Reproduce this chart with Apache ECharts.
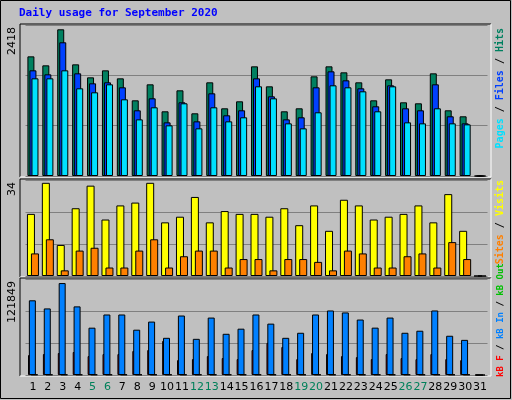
<!DOCTYPE html>
<html><head><meta charset="utf-8">
<script src="https://cdn.jsdelivr.net/npm/echarts@6/dist/echarts.min.js"></script>
<style>html,body{margin:0;padding:0;background:#c0c0c0}#c{width:512px;height:400px}</style>
</head><body><div id="c"></div>
<script>
const days = ['1','2','3','4','5','6','7','8','9','10','11','12','13','14','15','16','17','18','19','20','21','22','23','24','25','26','27','28','29','30','31'];
const weekend = ['5','6','12','13','19','20','26','27'];
const hits  = [1916,1772,2349,1788,1580,1692,1564,1212,1468,1036,1372,1004,1500,1084,1196,1756,1436,1036,1084,1596,1756,1660,1500,1212,1548,1180,1164,1644,1052,956,0];
const files = [1692,1628,2141,1644,1484,1500,1420,1052,1244,859,1180,875,1324,972,1052,1564,1276,907,940,1420,1676,1532,1404,1116,1452,1084,1052,1468,956,843,0];
const pages = [1564,1564,1692,1404,1340,1468,1228,907,1100,811,1164,763,1100,875,940,1436,1244,843,763,1020,1452,1420,1356,1036,1436,859,843,1084,843,827,0];
const visits = [22,33,11,24,32,20,25,26,33,19,21,28,19,23,22,22,21,24,18,25,16,27,25,20,21,22,25,19,29,16,0];
const sites  = [8,13,2,9,10,3,3,9,13,3,7,9,9,3,6,6,2,6,6,5,2,9,8,3,3,7,8,3,12,6,0];
const kbIn  = [94800,84500,116700,87100,60060,76800,76800,57500,67800,47200,75500,45900,72900,52300,58800,76800,65200,47200,53600,76800,81900,79400,70400,60100,72900,53600,56200,81900,49800,44600,0];
const kbF   = [25300,26600,27900,29200,24000,26600,26600,30500,31700,43300,18900,20200,24000,21500,20200,31700,40800,35600,20200,27900,26600,24000,22700,20200,26600,21500,20200,26600,20200,18900,0];
const kbOut = [600,600,600,600,600,600,600,600,600,600,600,600,600,600,600,600,600,600,600,600,600,600,600,600,600,600,600,600,600,600,0];
const maxHits = 2418, maxVisits = 34, maxKB = 121849;

const chart = echarts.init(document.getElementById('c'));
const panels = [{top:25,h:151},{top:180,h:96},{top:279,h:96}];
const maxes = [maxHits, maxVisits, maxKB];
const grids = panels.map(p=>({left:25.5,width:462,top:p.top,height:p.h}));
const xAxes = panels.map((p,i)=>({type:'category',gridIndex:i,data:days,
  axisLine:{show:false},axisTick:{show:false},
  axisLabel:{show:i===2,interval:0,margin:7,fontFamily:'DejaVu Sans',fontSize:11,
    color:v=>weekend.includes(v)?'#00805a':'#000'}}));
const yAxes = panels.map((p,i)=>({type:'value',gridIndex:i,min:0,max:maxes[i],interval:maxes[i]/3,
  axisLabel:{show:false},axisLine:{show:false},axisTick:{show:false},
  splitLine:{show:true,lineStyle:{color:'#808080',width:1}}}));
const bs = {borderColor:'#000',borderWidth:1};
function bar(name,data,g,color,w,gap){return {name,type:'bar',data,xAxisIndex:g,yAxisIndex:g,barWidth:w,barGap:gap,
  itemStyle:Object.assign({color},bs),animation:false,silent:true};}
const series = [
  bar('Hits',hits,0,'#008060',7,'-71%'),
  bar('Files',files,0,'#0040ff',7,'-71%'),
  bar('Pages',pages,0,'#00e0ff',7,'-71%'),
  bar('Visits',visits,1,'#ffff00',8,'-50%'),
  bar('Sites',sites,1,'#ff8000',8,'-50%'),
  bar('kB F',kbF,2,'#ff0000',3,'-34%'),
  bar('kB In',kbIn,2,'#0080ff',7,'-71%'),
  bar('kB Out',kbOut,2,'#00c000',7,'-71%')
];
series[5].barGap='33%';
const gfx = [];
panels.forEach(p=>{
  gfx.push({type:'line',shape:{x1:20,y1:p.top-1,x2:491,y2:p.top-1},style:{stroke:'#000',lineWidth:1},z:-1});
  gfx.push({type:'line',shape:{x1:20,y1:p.top-1,x2:20,y2:p.top+p.h+1},style:{stroke:'#000',lineWidth:1},z:-1});
  gfx.push({type:'line',shape:{x1:20,y1:p.top+p.h+1,x2:491,y2:p.top+p.h+1},style:{stroke:'#fff',lineWidth:1},z:-1});
  gfx.push({type:'line',shape:{x1:491,y1:p.top-1,x2:491,y2:p.top+p.h+1},style:{stroke:'#fff',lineWidth:1},z:-1});
});
gfx.push({type:'rect',shape:{x:0.5,y:0.5,width:510,height:398},style:{fill:null,stroke:'#000',lineWidth:1}});
gfx.push({type:'text',left:19,top:8,style:{text:'Daily usage for September 2020',fill:'#0000ff',font:'bold 11px "DejaVu Sans Mono"'}});
const lf = '11px "DejaVu Sans"';
[[maxHits,25],[maxVisits,180],[maxKB,279]].forEach(([v,t])=>{
  gfx.push({type:'text',x:7,y:t+2,rotation:Math.PI/2,style:{text:String(v),fill:'#000',font:lf,align:'right',verticalAlign:'top'}});
});
function rlabel(x,y,size,align,parts){
  gfx.push({type:'text',x:x,y:y,rotation:Math.PI/2,style:{text:parts.map((p,i)=>'{s'+i+'|'+p[0]+'}').join(''),
    rich:Object.fromEntries(parts.map((p,i)=>['s'+i,{fill:p[1],font:'bold '+size+'px "DejaVu Sans Mono"'}])),align:align,verticalAlign:'top'}});
}
rlabel(495,28,10,'right',[['Pages','#00e0ff'],[' / ','#000'],['Files','#0040ff'],[' / ','#000'],['Hits','#008060']]);
rlabel(495,180,10,'right',[['Sites','#ff8000'],[' / ','#000'],['Visits','#ffff00']]);
rlabel(496,377,9,'left',[['kB F','#ff0000'],[' / ','#000'],['kB In','#0080ff'],[' / ','#000'],['kB Out','#00c000']]);
chart.setOption({backgroundColor:'#c0c0c0',animation:false,grid:grids,xAxis:xAxes,yAxis:yAxes,series,graphic:gfx});
</script></body></html>
